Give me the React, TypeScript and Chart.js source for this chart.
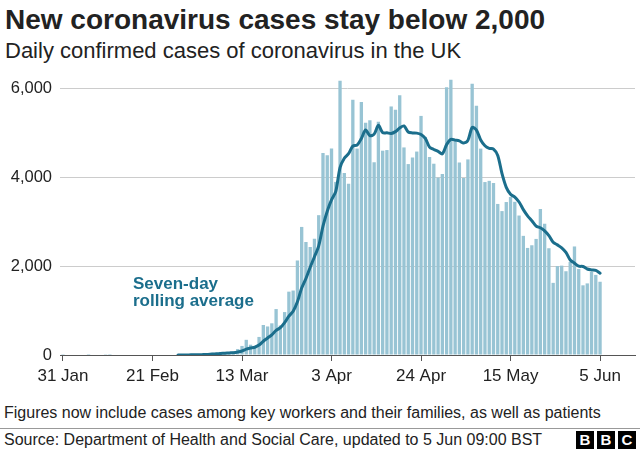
import React, { useEffect, useRef } from 'react';
import { Chart, registerables } from 'chart.js';

Chart.register(...registerables);

// Day index 0 = 31 Jan 2020, 126 = 5 Jun 2020
const tickDays = [0, 21, 42, 63, 84, 105, 126];
const tickLabels = ['31 Jan', '21 Feb', '13 Mar', '3 Apr', '24 Apr', '15 May', '5 Jun'];
const yTickValues = [0, 2000, 4000, 6000];

const dailyCases = [
  2, 0, 0, 0, 0, 0, 1, 0, 0, 0,
  4, 1, 0, 0, 0, 0, 0, 0, 0, 0,
  0, 0, 0, 0, 0, 0, 0, 2, 5, 3,
  13, 4, 11, 34, 29, 48, 45, 69, 43, 62,
  77, 134, 204, 342, 232, 171, 407, 676, 643, 714,
  1035, 665, 967, 1427, 1452, 2129, 2885, 2546, 2433, 2619,
  3150, 4550, 4500, 4650, 3900, 6180, 4100, 3860, 5750, 4650,
  5700, 5234, 5288, 4342, 5252, 4603, 4617, 5599, 5525, 5850,
  4676, 4301, 4451, 4583, 5386, 4913, 4463, 4309, 3996, 4076,
  6032, 6201, 4806, 4339, 3985, 4406, 6111, 5614, 4649, 3896,
  3923, 3877, 3403, 3242, 3446, 3560, 3451, 3142, 2684, 2412,
  2472, 2615, 3287, 2959, 2405, 1625, 2004, 2013, 1887, 2095,
  2445, 1936, 1570, 1613, 1871, 1805, 1650,
];

const rollingAverage: (number | null)[] = [
  null, null, null, null, null, null, null, null, null, null,
  null, null, null, null, null, null, null, null, null, null,
  null, null, null, null, null, null, null, 0, 1, 1,
  3, 4, 5, 10, 14, 20, 26, 34, 40, 47,
  53, 68, 91, 133, 156, 175, 224, 309, 382, 455,
  554, 616, 730, 875, 986, 1198, 1509, 1724, 1977, 2213,
  2459, 2902, 3240, 3493, 3686, 4221, 4433, 4534, 4706, 4727,
  4877, 5068, 4940, 4975, 5174, 5010, 5005, 4991, 5032, 5113,
  5160, 5024, 5003, 4998, 4967, 4880, 4682, 4629, 4586, 4532,
  4739, 4856, 4840, 4823, 4776, 4835, 5126, 5066, 4844, 4714,
  4655, 4639, 4496, 4086, 3777, 3621, 3557, 3446, 3275, 3134,
  3024, 2905, 2866, 2796, 2691, 2539, 2481, 2415, 2311, 2141,
  2068, 2001, 1993, 1937, 1917, 1905, 1841,
];

const FONT = '"Liberation Sans", Arial, Helvetica, sans-serif';
const BAR_COLOR = '#98c4d4';
const LINE_COLOR = '#1b6e8c';
const TEXT_COLOR = '#222222';

export default function App() {
  const canvasRef = useRef<HTMLCanvasElement>(null);

  useEffect(() => {
    if (!canvasRef.current) return;
    const chart = new Chart(canvasRef.current, {
      type: 'bar',
      data: {
        datasets: [
          {
            type: 'line',
            data: rollingAverage.map((v, i) => ({ x: i, y: v })),
            borderColor: LINE_COLOR,
            borderWidth: 3,
            pointRadius: 0,
            tension: 0.3,
            spanGaps: false,
            borderCapStyle: 'round',
            borderJoinStyle: 'round',
            order: 0,
          } as any,
          {
            type: 'bar',
            data: dailyCases.map((v, i) => ({ x: i, y: v })),
            backgroundColor: BAR_COLOR,
            barPercentage: 0.78,
            categoryPercentage: 1,
            order: 1,
          } as any,
        ],
      },
      options: {
        responsive: false,
        animation: false,
        devicePixelRatio: 1,
        layout: { padding: { top: 1, right: 5, left: 0, bottom: 0 } },
        plugins: { legend: { display: false }, tooltip: { enabled: false } },
        scales: {
          x: {
            type: 'linear',
            min: -0.7,
            max: 134.2,
            offset: false,
            afterBuildTicks: (s: any) => {
              s.ticks = tickDays.map((v) => ({ value: v }));
            },
            afterFit: (s: any) => {
              s.height = 41;
            },
            grid: { drawOnChartArea: false, drawTicks: true, tickLength: 6, color: '#555555', offset: false },
            border: { display: true, color: '#555555', width: 1 },
            ticks: {
              autoSkip: false,
              maxRotation: 0,
              padding: 5,
              color: TEXT_COLOR,
              font: { family: FONT, size: 17 },
              callback: (v: any) => {
                const i = tickDays.indexOf(Number(v));
                return i >= 0 ? tickLabels[i] : '';
              },
            },
          },
          y: {
            min: 0,
            max: 6400,
            afterBuildTicks: (s: any) => {
              s.ticks = yTickValues.map((v) => ({ value: v }));
            },
            afterFit: (s: any) => {
              s.width = 60;
            },
            grid: { color: '#cccccc', drawTicks: false, lineWidth: 1 },
            border: { display: false },
            ticks: {
              padding: 8,
              color: TEXT_COLOR,
              font: { family: FONT, size: 16.5 },
              callback: (v: any) => Number(v).toLocaleString('en-GB'),
            },
          },
        },
      } as any,
    });
    return () => chart.destroy();
  }, []);

  const abs = (s: React.CSSProperties): React.CSSProperties => ({ position: 'absolute', whiteSpace: 'nowrap', ...s });
  const block = (left: number, letter: string) => (
    <div
      style={abs({
        left,
        top: 431,
        width: 18,
        height: 18,
        background: '#000',
        color: '#fff',
        fontWeight: 'bold',
        fontSize: 15,
        lineHeight: '18px',
        textAlign: 'center',
      })}
    >
      {letter}
    </div>
  );

  return (
    <div
      style={{
        position: 'absolute',
        left: 0,
        top: 0,
        width: 640,
        height: 450,
        background: '#fff',
        overflow: 'hidden',
        fontFamily: FONT,
        color: TEXT_COLOR,
      }}
    >
      <div style={abs({ left: 5, top: 6, fontSize: 28, fontWeight: 'bold', lineHeight: '28px' })}>
        New coronavirus cases stay below 2,000
      </div>
      <div style={abs({ left: 5, top: 40, fontSize: 22, lineHeight: '22px' })}>
        Daily confirmed cases of coronavirus in the UK
      </div>
      <canvas
        ref={canvasRef}
        width={640}
        height={343}
        style={{ position: 'absolute', left: 0, top: 53, width: 640, height: 343 }}
      />
      <div style={abs({ left: 133, top: 275, fontSize: 17, fontWeight: 'bold', lineHeight: '17px', color: LINE_COLOR })}>
        Seven-day
        <br />
        rolling average
      </div>
      <div style={abs({ left: 4, top: 405, fontSize: 16, lineHeight: '16px' })}>
        Figures now include cases among key workers and their families, as well as patients
      </div>
      <div style={abs({ left: 0, top: 428, width: 640, height: 1, background: '#999' })} />
      <div style={abs({ left: 4, top: 432, fontSize: 16, lineHeight: '16px' })}>
        Source: Department of Health and Social Care, updated to 5 Jun 09:00 BST
      </div>
      {block(576, 'B')}
      {block(597, 'B')}
      {block(618, 'C')}
    </div>
  );
}
